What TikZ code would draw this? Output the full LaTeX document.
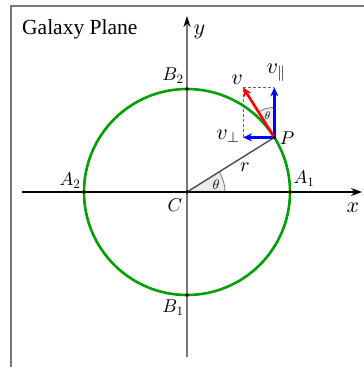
\documentclass[tikz,border=0pt]{standalone}
\usepackage{fontspec}
\newfontfamily\titlefont{Liberation Serif}
\DeclareFontFamily{OML}{cmm}{\skewchar\font'177}
\DeclareFontShape{OML}{cmm}{m}{it}{<->cmmi10}{}
\DeclareFontFamily{OMS}{cmsy}{\skewchar\font'60}
\DeclareFontShape{OMS}{cmsy}{m}{n}{<->cmsy10}{}
\DeclareFontShape{OT1}{cmr}{m}{n}{<->cmr10}{}
\usetikzlibrary{arrows.meta,calc}
\definecolor{orbitgreen}{RGB}{0,160,0}
\definecolor{framegray}{RGB}{120,120,120}
\definecolor{wedgegray}{RGB}{235,235,235}
\tikzset{
  vec/.style={line width=2.6pt,-{Stealth[length=9pt,width=8pt]}},
  lab/.style={font=\fontsize{18.5}{20}\selectfont,inner sep=0pt},
  biglab/.style={font=\fontsize{22}{24}\selectfont,inner sep=0pt},
}
\begin{document}
\begin{tikzpicture}[x=1pt,y=-1pt]
\useasboundingbox (0,0) rectangle (364,367);
% frame
\draw[framegray,line width=2pt] (11,370) -- (11,6) -- (370,6);
\node[anchor=west,font=\titlefont\fontsize{21.5}{24}\selectfont,inner sep=0pt] (title) at (22,29) {Galaxy Plane};
% coordinates
\coordinate (C) at (187,192);
\coordinate (P) at ($(C)+(-32:103)$);
\coordinate (A1) at ($(C)+(103,0)$);
\coordinate (A2) at ($(C)+(-103,0)$);
\coordinate (B1) at ($(C)+(0,103)$);
\coordinate (B2) at ($(C)+(0,-103)$);
\coordinate (V) at ($(P)+(-122:59)$);
\coordinate (Vpar) at (P |- V);
\coordinate (Vperp) at (V |- P);
% axes
\coordinate (xs) at (22,192);
\coordinate (xe) at (362,192);
\coordinate (ys) at (187,357);
\coordinate (ye) at (187,16);
% wedge at C
\fill[wedgegray] (C) -- ($(C)+(38,0)$) arc[start angle=0,end angle=-32,radius=38] -- cycle;
\draw[framegray,line width=0.8pt] ($(C)+(38,0)$) arc[start angle=0,end angle=-32,radius=38];
% wedge at P
\fill[wedgegray] (P) -- ($(P)+(-90:30)$) arc[start angle=-90,end angle=-122,radius=30] -- cycle;
\draw[framegray,line width=0.8pt] ($(P)+(-90:30)$) arc[start angle=-90,end angle=-122,radius=30];
% axes
\draw[black,line width=1.3pt,-{Stealth[length=11pt,width=8pt]}] (xs) -- (xe);
\draw[framegray,line width=2pt,-{Stealth[length=11pt,width=7pt,color=black]}] (ys) -- (ye);
% orbit
\draw[orbitgreen,line width=2.6pt] (C) circle[radius=103];
% radius
\draw[black!70,line width=1.4pt] (C) -- (P);
% dashed
\draw[black!60,line width=0.8pt,dash pattern=on 3pt off 2pt] (Vperp) -- (V) -- (Vpar);
% vectors
\draw[blue,vec] (P) -- (Vpar);
\draw[blue,vec] (P) -- (Vperp);
\draw[red,vec] (P) -- (V);
% dots
\foreach \p in {C,P,A1,A2,B1,B2} \fill (\p) circle[radius=1.8];
% labels
\node[lab] (lA1) at (304,179) {$A_1$};
\node[lab] (lA2) at (70,181) {$A_2$};
\node[lab] (lB1) at (173,308) {$B_1$};
\node[lab] (lB2) at (173,76) {$B_2$};
\node[lab] (lC) at (175,205) {$C$};
\node[lab] (lP) at (287,138) {$P$};
\node[font=\fontsize{20}{22}\selectfont,inner sep=0pt] (lr) at (245,167) {$r$};
\node[font=\fontsize{14}{16}\selectfont,inner sep=0pt] (th1) at (216,185) {$\theta$};
\node[font=\fontsize{11}{12}\selectfont,inner sep=0pt] (th2) at (267.5,116) {$\theta$};
\node[biglab] (lx) at (353,208) {$x$};
\node[biglab] (ly) at (199.5,32) {$y$};
\node[biglab] (lv) at (237,80) {$v$};
\node[biglab] (lvpar) at (276,73) {$v_\parallel$};
\node[biglab] (lvperp) at (228,136) {$v_\perp$};
\end{tikzpicture}
\end{document}
